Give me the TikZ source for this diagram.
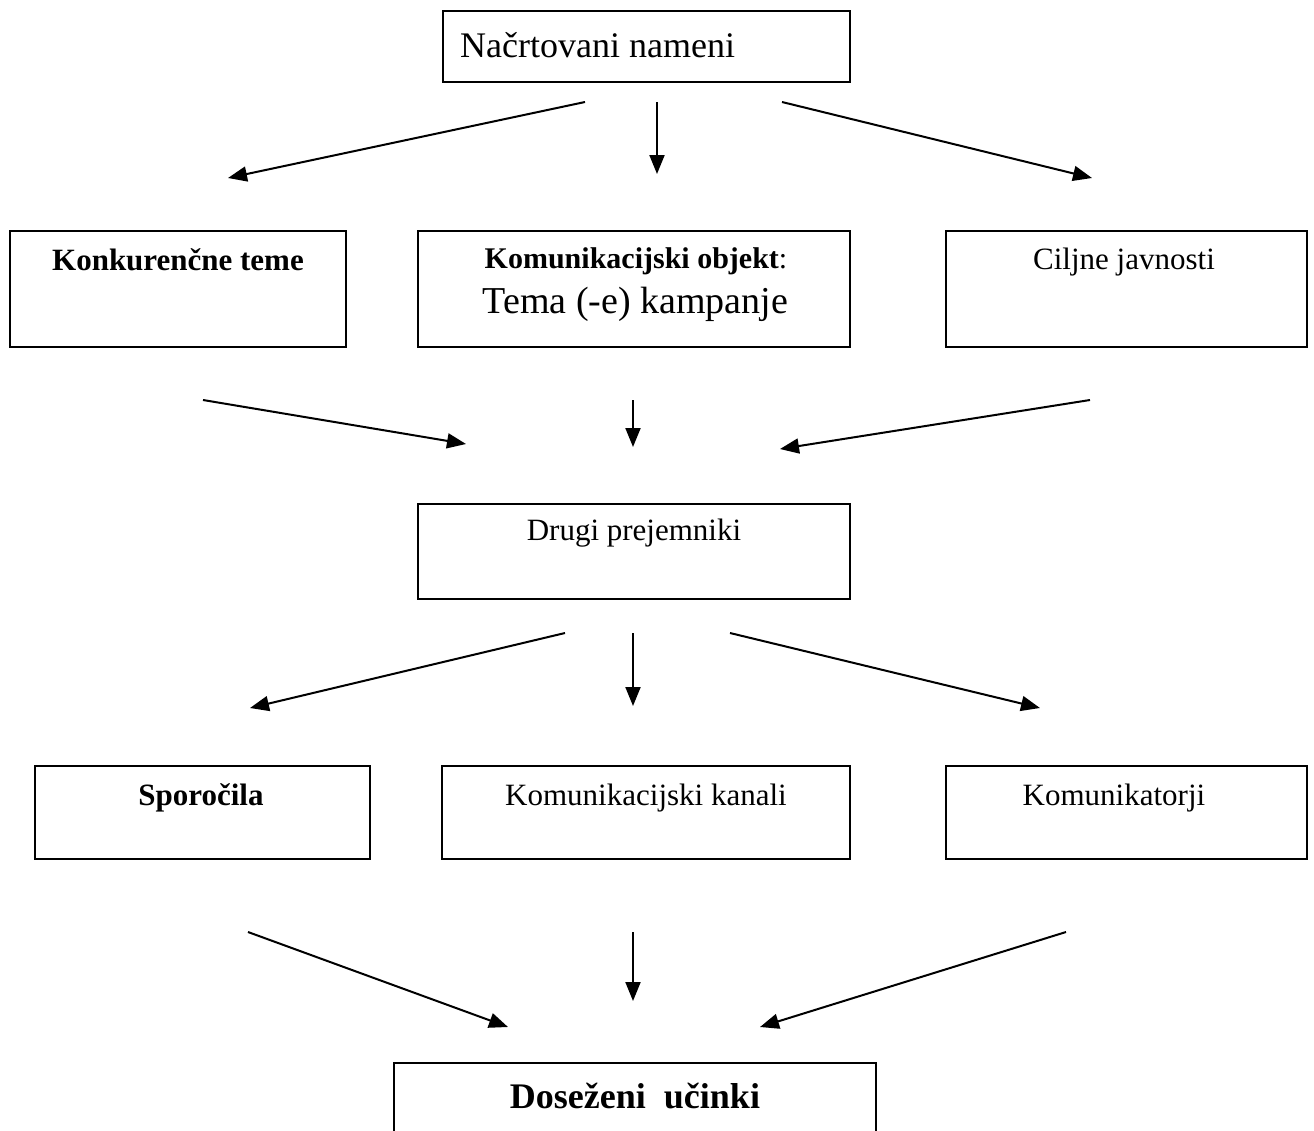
\documentclass[tikz,border=0pt]{standalone}
\usepackage{fontspec}
\setmainfont{Liberation Serif}
\usetikzlibrary{arrows.meta}
\tikzset{
  box/.style={draw, line width=2.4pt, rectangle, inner sep=0pt, outer sep=0pt},
  lbl/.style={anchor=base, inner sep=0pt, font=\fontsize{31}{36}\selectfont},
  lblb/.style={lbl, font=\fontsize{31}{36}\selectfont\bfseries},
  arr/.style={line width=2pt, -{Triangle[length=19pt,width=15pt]}}
}
\begin{document}
\begin{tikzpicture}[x=1pt,y=-1pt]
\useasboundingbox (0,0) rectangle (1314,1130);
% boxes
\node[box, minimum width=407pt, minimum height=71pt] (A) at (646.5,46.5) {};
\node[box, minimum width=336pt, minimum height=116pt] (B) at (178,289) {};
\node[box, minimum width=432pt, minimum height=116pt] (C) at (634,289) {};
\node[box, minimum width=361pt, minimum height=116pt] (D) at (1126.5,289) {};
\node[box, minimum width=432pt, minimum height=95pt] (E) at (634,551.5) {};
\node[box, minimum width=335pt, minimum height=93pt] (F) at (202.5,812.5) {};
\node[box, minimum width=408pt, minimum height=93pt] (G) at (646,812.5) {};
\node[box, minimum width=361pt, minimum height=93pt] (H) at (1126.5,812.5) {};
\node[box, minimum width=482pt, minimum height=77pt] (I) at (635,1101.5) {};
% labels
\node[lbl, anchor=base west, font=\fontsize{36}{40}\selectfont] (tA) at (460,57) {Načrtovani nameni};
\node[lblb] (tB) at (178,270) {Konkurenčne teme};
\node[lbl, font=\fontsize{30}{34}\selectfont] (tC1) at (636,268) {\textbf{Komunikacijski objekt}:};
\node[lbl, font=\fontsize{38}{42}\selectfont] (tC2) at (635.5,313) {Tema (-e) kampanje};
\node[lbl] (tD) at (1124,269) {Ciljne javnosti};
\node[lbl] (tE) at (634,540) {Drugi prejemniki};
\node[lblb] (tF) at (201,805) {Sporočila};
\node[lbl] (tG) at (646,805) {Komunikacijski kanali};
\node[lbl] (tH) at (1114,805) {Komunikatorji};
\node[lbl, font=\fontsize{36}{40}\selectfont\bfseries] (tI) at (635,1108) {Doseženi\hspace{0.5em}učinki};
% arrow end points
\coordinate (a1s) at (585,102); \coordinate (a1e) at (228,178);
\coordinate (a2s) at (657,102); \coordinate (a2e) at (657,174);
\coordinate (a3s) at (782,102); \coordinate (a3e) at (1092,178);
\coordinate (b1s) at (203,400); \coordinate (b1e) at (466,444);
\coordinate (b2s) at (633,400); \coordinate (b2e) at (633,447);
\coordinate (b3s) at (1090,400); \coordinate (b3e) at (780,449);
\coordinate (c1s) at (565,633); \coordinate (c1e) at (250,708);
\coordinate (c2s) at (633,633); \coordinate (c2e) at (633,706);
\coordinate (c3s) at (730,633); \coordinate (c3e) at (1040,708);
\coordinate (d1s) at (248,932); \coordinate (d1e) at (508,1027);
\coordinate (d2s) at (633,932); \coordinate (d2e) at (633,1001);
\coordinate (d3s) at (1066,932); \coordinate (d3e) at (760,1027);
% arrows
\draw[arr] (a1s) -- (a1e);
\draw[arr] (a2s) -- (a2e);
\draw[arr] (a3s) -- (a3e);
\draw[arr] (b1s) -- (b1e);
\draw[arr] (b2s) -- (b2e);
\draw[arr] (b3s) -- (b3e);
\draw[arr] (c1s) -- (c1e);
\draw[arr] (c2s) -- (c2e);
\draw[arr] (c3s) -- (c3e);
\draw[arr] (d1s) -- (d1e);
\draw[arr] (d2s) -- (d2e);
\draw[arr] (d3s) -- (d3e);
\end{tikzpicture}
\end{document}
